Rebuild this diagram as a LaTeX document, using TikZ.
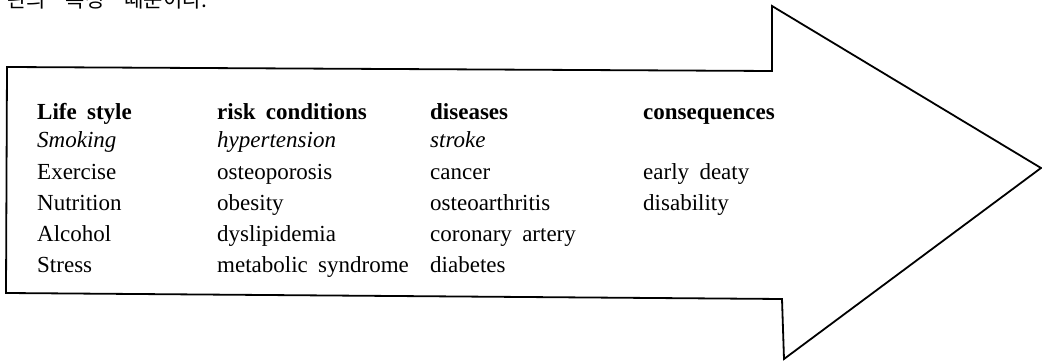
\documentclass[tikz,border=0pt]{standalone}
\usepackage{fontspec}
\setmainfont{Liberation Serif}
\newfontfamily\kofont{Noto Sans CJK KR}
\usetikzlibrary{positioning}
\tikzset{
  cell/.style={anchor=base west, inner sep=0pt, font=\fontsize{23}{27}\selectfont},
  head/.style={cell, font=\fontsize{23}{27}\selectfont\bfseries},
  first/.style={cell, font=\fontsize{23}{27}\selectfont\itshape},
  outline/.style={line width=1.8pt, line join=miter},
}
\newcommand{\wsp}{\hspace{0.45em}}

\begin{document}
\begin{tikzpicture}[x=1pt,y=-1pt]
\clip (0,0) rectangle (1042,363);
\node (note) [anchor=base west, inner sep=0pt, font=\kofont\fontsize{21}{24}\selectfont] at (7,8) {관의\hspace{20pt}특성\hspace{20pt}때문이다.};
% the arrow
\draw[outline] (7,67) -- (772,71) -- (772,6) -- (1041,168) -- (784,359) -- (782,299) -- (6,293) -- cycle;
% column heads
\node (life) [head] at (37,120) {Life\wsp style};
\node (risk) [head] at (217,120) {risk\wsp conditions};
\node (dis) [head] at (430,120) {diseases};
\node (cons) [head] at (643,120) {consequences};
% life style
\node (smoking) [below=28pt of life.base west, first] {Smoking};
\node (exercise) [below=32pt of smoking.base west, cell] {Exercise};
\node (nutrition) [below=31pt of exercise.base west, cell] {Nutrition};
\node (alcohol) [below=31pt of nutrition.base west, cell] {Alcohol};
\node (stress) [below=31pt of alcohol.base west, cell] {Stress};
% risk conditions
\node (hyper) [below=28pt of risk.base west, first] {hypertension};
\node (osteop) [below=32pt of hyper.base west, cell] {osteoporosis};
\node (obesity) [below=31pt of osteop.base west, cell] {obesity};
\node (dyslip) [below=31pt of obesity.base west, cell] {dyslipidemia};
\node (metab) [below=31pt of dyslip.base west, cell] {metabolic\wsp syndrome};
% diseases
\node (stroke) [below=28pt of dis.base west, first] {stroke};
\node (cancer) [below=32pt of stroke.base west, cell] {cancer};
\node (osteoa) [below=31pt of cancer.base west, cell] {osteoarthritis};
\node (coronary) [below=31pt of osteoa.base west, cell] {coronary\wsp artery};
\node (diabetes) [below=31pt of coronary.base west, cell] {diabetes};
% consequences
\node (early) [below=60pt of cons.base west, cell] {early\wsp deaty};
\node (disab) [below=31pt of early.base west, cell] {disability};
\end{tikzpicture}
\end{document}
